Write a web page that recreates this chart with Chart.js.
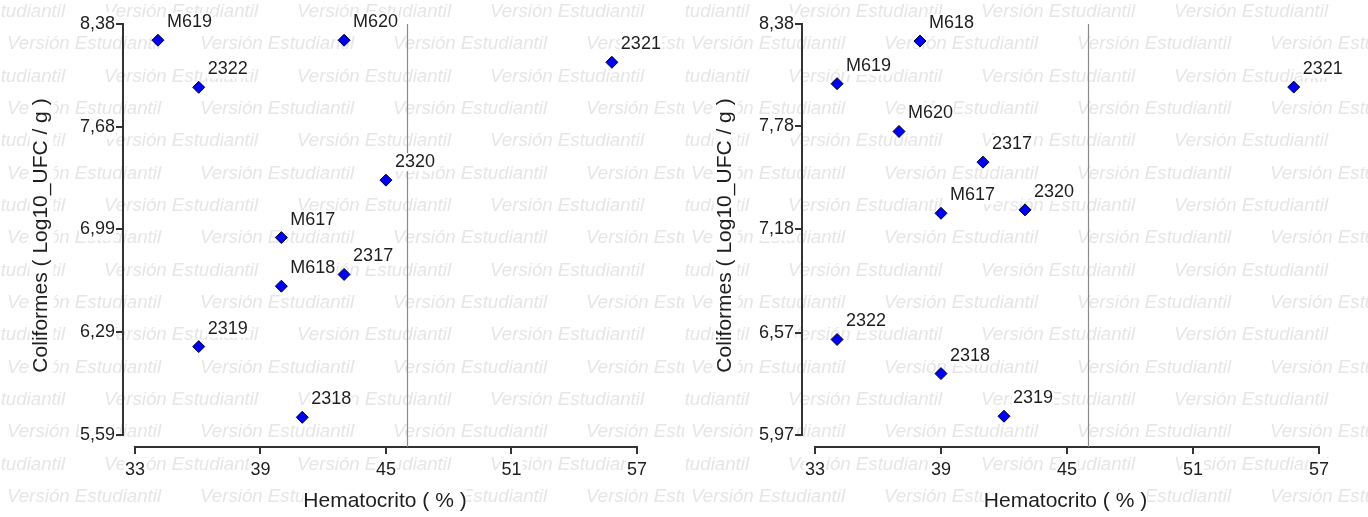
<!DOCTYPE html>
<html>
<head>
<meta charset="utf-8">
<script src="https://cdn.jsdelivr.net/npm/chart.js@4/dist/chart.umd.min.js"></script>
<style>
  body { margin: 0; background: #fff; }
  .panel { position: absolute; top: 0; width: 684px; height: 517px; }
</style>
</head>
<body>
<div class="panel" style="left:0"><canvas id="chartLeft" width="684" height="517"></canvas></div>
<div class="panel" style="left:684px"><canvas id="chartRight" width="684" height="517"></canvas></div>
<script>
// left panel
const leftNames = ['M619', 'M620', '2322', '2321', '2320', 'M617', 'M618', '2317', '2319', '2318']
const leftHematocrito = [34.1, 43, 36.05, 55.8, 45, 40, 40, 43, 36.05, 41]
const leftColiformes = [8.27, 8.27, 7.95, 8.12, 7.32, 6.93, 6.60, 6.68, 6.19, 5.71]
const leftYTicks = [5.59, 6.29, 6.99, 7.68, 8.38]

// right panel
const rightNames = ['M618', 'M619', 'M620', '2317', 'M617', '2320', '2321', '2322', '2318', '2319']
const rightHematocrito = [38, 34.05, 37, 41, 39, 43, 55.8, 34.05, 39, 42]
const rightColiformes = [8.28, 8.03, 7.75, 7.57, 7.27, 7.29, 8.01, 6.53, 6.33, 6.08]
const rightYTicks = [5.97, 6.57, 7.18, 7.78, 8.38]

const xTicks = [33, 39, 45, 51, 57]
const refLineX = 46

const FONT = "'Liberation Sans', Arial, sans-serif"
const TEXT = '#1e1e1e'
const AXIS = '#333333'

const watermark = {
  id: 'watermark',
  beforeDraw(chart) {
    const ctx = chart.ctx
    ctx.save()
    ctx.fillStyle = '#e6e6e6'
    ctx.font = "italic 18.7px " + FONT
    ctx.textBaseline = 'middle'
    ctx.textAlign = 'left'
    for (let i = 0; i < 17; i++) {
      const y = 11.7 + i * 32.33
      let x = i % 2 === 0 ? -89 : 7
      for (; x < chart.width; x += 193) ctx.fillText('Versión Estudiantil', x, y)
    }
    // white boxes behind the axis titles
    ctx.fillStyle = '#fff'
    const xs = chart.scales.x, ys = chart.scales.y
    ctx.font = "21px " + FONT
    const xw = ctx.measureText(xs.options.title.text).width
    const xty = xs.bottom - (21 * 1.2 / 2 + 3)
    ctx.fillRect((xs.left + xs.right) / 2 - xw / 2, xty - 12, xw, 24)
    const yw = ctx.measureText(ys.options.title.text).width
    const ytx = ys.left + 21 * 1.2 / 2 + 29
    ctx.fillRect(ytx - 12, (ys.top + ys.bottom) / 2 - yw / 2, 24, yw)
    ctx.restore()
  }
}

const axesAndLine = {
  id: 'axesAndLine',
  beforeDatasetsDraw(chart) {
    const ctx = chart.ctx
    const xs = chart.scales.x, ys = chart.scales.y
    const area = chart.chartArea
    const yt = ys.ticks.map(t => t.value)
    ctx.save()
    ctx.lineWidth = 2
    ctx.strokeStyle = AXIS
    ctx.beginPath()
    ctx.moveTo(Math.round(area.left), ys.getPixelForValue(yt[0]) + 1)
    ctx.lineTo(Math.round(area.left), ys.getPixelForValue(yt[yt.length - 1]) - 1)
    ctx.moveTo(xs.getPixelForValue(xTicks[0]) - 1, Math.round(area.bottom))
    ctx.lineTo(xs.getPixelForValue(xTicks[xTicks.length - 1]) + 1, Math.round(area.bottom))
    ctx.stroke()
    // reference line
    const lx = Math.round(xs.getPixelForValue(refLineX)) + 0.5
    ctx.lineWidth = 1.2
    ctx.strokeStyle = '#8a8a8a'
    ctx.beginPath()
    ctx.moveTo(lx, ys.getPixelForValue(yt[yt.length - 1]))
    ctx.lineTo(lx, area.bottom)
    ctx.stroke()
    ctx.restore()
  }
}

const pointNames = {
  id: 'pointNames',
  afterDatasetsDraw(chart) {
    const ctx = chart.ctx
    const ds = chart.data.datasets[0]
    const meta = chart.getDatasetMeta(0)
    ctx.save()
    ctx.font = "18px " + FONT
    ctx.textBaseline = 'middle'
    ctx.textAlign = 'left'
    meta.data.forEach((pt, i) => {
      const name = ds.names[i]
      const tx = pt.x + 9, ty = pt.y - 18
      const w = ctx.measureText(name).width
      ctx.fillStyle = '#fff'
      ctx.fillRect(tx - 1, ty - 9, w + 2, 18)
      ctx.fillStyle = TEXT
      ctx.fillText(name, tx, ty)
    })
    ctx.restore()
  }
}

function makePanel(id, names, xs, ys, yTicks, layout) {
  const ctx = document.getElementById(id).getContext('2d')
  return new Chart(ctx, {
    type: 'scatter',
    data: {
      datasets: [{
        names: names,
        data: xs.map((x, i) => ({ x: x, y: ys[i] })),
        pointStyle: 'rectRot',
        pointRadius: 6,
        pointHoverRadius: 6,
        backgroundColor: '#0000f0',
        borderColor: '#000033',
        borderWidth: 1
      }]
    },
    options: {
      responsive: false,
      animation: false,
      events: [],
      layout: { padding: { top: 24, right: layout.padRight, bottom: 0, left: 0 } },
      plugins: {
        legend: { display: false },
        tooltip: { enabled: false }
      },
      scales: {
        x: {
          type: 'linear',
          min: layout.xMin,
          max: layout.xMax,
          afterBuildTicks: s => { s.ticks = xTicks.map(v => ({ value: v })) },
          afterFit: s => { s.height = 70 },
          border: { display: false },
          grid: { drawOnChartArea: false, drawTicks: true, tickLength: 7, lineWidth: 2, color: AXIS },
          ticks: {
            autoSkip: false,
            maxRotation: 0,
            padding: 5,
            color: TEXT,
            font: { family: FONT, size: 18 },
            showLabelBackdrop: true,
            backdropColor: '#fff',
            backdropPadding: 1,
            callback: v => String(v)
          },
          title: {
            display: true,
            text: 'Hematocrito ( % )',
            color: TEXT,
            font: { family: FONT, size: 21 },
            padding: { top: 0, bottom: 3 }
          }
        },
        y: {
          type: 'linear',
          min: layout.yMin,
          max: yTicks[yTicks.length - 1],
          afterBuildTicks: s => { s.ticks = yTicks.map(v => ({ value: v })) },
          afterFit: s => { s.width = layout.axisWidth },
          border: { display: false },
          grid: { drawOnChartArea: false, drawTicks: true, tickLength: 7, lineWidth: 2, color: AXIS },
          ticks: {
            autoSkip: false,
            padding: 1,
            color: TEXT,
            font: { family: FONT, size: 18 },
            showLabelBackdrop: true,
            backdropColor: '#fff',
            backdropPadding: 1,
            callback: v => v.toFixed(2).replace('.', ',')
          },
          title: {
            display: true,
            text: 'Coliformes ( Log10_UFC / g )',
            color: TEXT,
            font: { family: FONT, size: 21 },
            padding: { top: 29, bottom: 0 }
          }
        }
      }
    },
    plugins: [watermark, axesAndLine, pointNames]
  })
}

makePanel('chartLeft', leftNames, leftHematocrito, leftColiformes, leftYTicks,
  { xMin: 32.43, xMax: 57.48, yMin: 5.5085, axisWidth: 123, padRight: 37 })
makePanel('chartRight', rightNames, rightHematocrito, rightColiformes, rightYTicks,
  { xMin: 32.38, xMax: 57.48, yMin: 5.8996, axisWidth: 118, padRight: 39 })
</script>
</body>
</html>
